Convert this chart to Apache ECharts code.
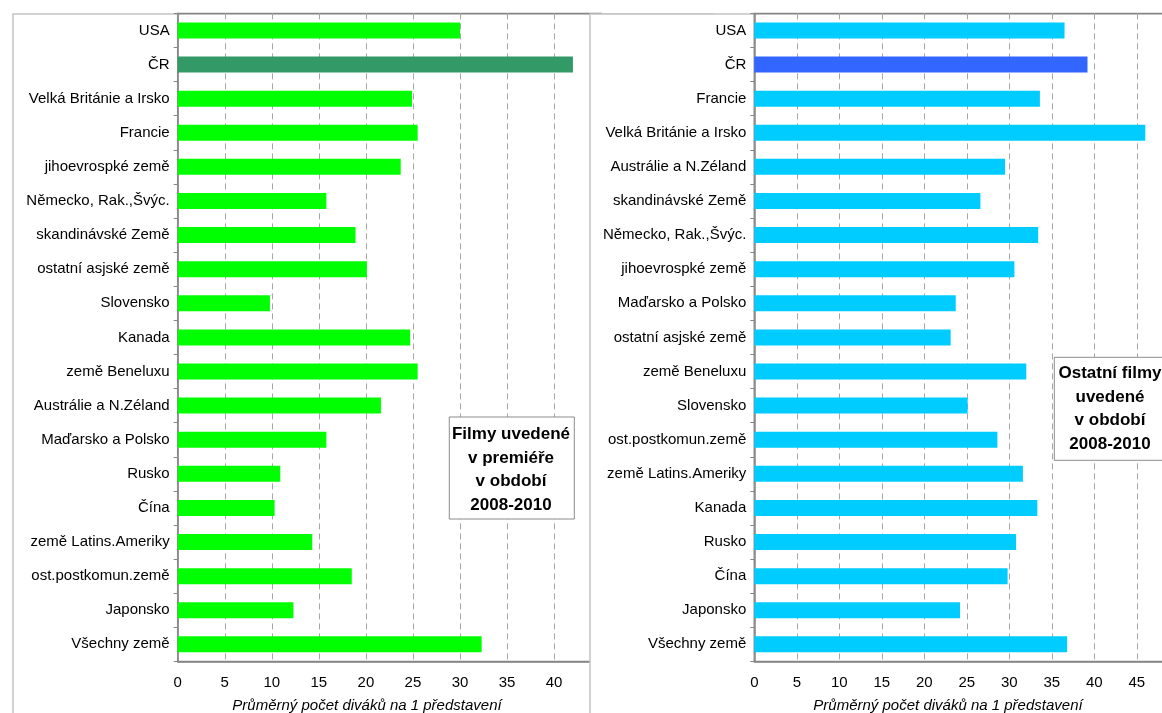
<!DOCTYPE html>
<html>
<head>
<meta charset="utf-8">
<script src="https://cdn.jsdelivr.net/npm/echarts@6/dist/echarts.min.js"></script>
<style>
  html, body { margin: 0; padding: 0; background: #fff; }
  #chart { width: 1162px; height: 713px; }
</style>
</head>
<body>
<div id="chart"></div>
<script>
// premiere films 2008-2010
const leftCategories = ['USA', 'ČR', 'Velká Británie a Irsko', 'Francie', 'jihoevrospké země',
  'Německo, Rak.,Švýc.', 'skandinávské Země', 'ostatní asjské země', 'Slovensko', 'Kanada',
  'země Beneluxu', 'Austrálie a N.Zéland', 'Maďarsko a Polsko', 'Rusko', 'Čína',
  'země Latins.Ameriky', 'ost.postkomun.země', 'Japonsko', 'Všechny země']
const leftValues = [30.0, 42.0, 24.9, 25.5, 23.7, 15.8, 18.9, 20.1, 9.8, 24.7,
  25.5, 21.6, 15.8, 10.9, 10.3, 14.3, 18.5, 12.3, 32.3]

// other films
const rightCategories = ['USA', 'ČR', 'Francie', 'Velká Británie a Irsko', 'Austrálie a N.Zéland',
  'skandinávské Země', 'Německo, Rak.,Švýc.', 'jihoevrospké země', 'Maďarsko a Polsko',
  'ostatní asjské země', 'země Beneluxu', 'Slovensko', 'ost.postkomun.země',
  'země Latins.Ameriky', 'Kanada', 'Rusko', 'Čína', 'Japonsko', 'Všechny země']
const rightValues = [36.5, 39.2, 33.6, 46.0, 29.5, 26.6, 33.4, 30.6, 23.7,
  23.1, 32.0, 25.1, 28.6, 31.6, 33.3, 30.8, 29.8, 24.2, 36.8]

const xTicks = [0, 5, 10, 15, 20, 25, 30, 35, 40, 45, 50]
const axisTitle = 'Průměrný počet diváků na 1 představení'

const font = 'Arial, "Liberation Sans", sans-serif'

function barData(cats, vals, color, hiColor) {
  return vals.map((v, i) => ({
    value: v,
    itemStyle: { color: cats[i] === 'ČR' ? hiColor : color },
  }))
}

function xAxisOpt(gridIndex, max, z) {
  return {
    type: 'value',
    gridIndex,
    min: xTicks[0],
    max,
    interval: xTicks[1] - xTicks[0],
    z,
    axisLine: { show: true, lineStyle: { color: '#868686', width: 1.5 } },
    axisTick: { show: false },
    axisLabel: { color: '#000', fontSize: 15, fontFamily: font, margin: 14 },
    splitLine: { show: true, lineStyle: { color: '#a6a6a6', type: [6, 4], width: 1 } },
  }
}

function yAxisOpt(gridIndex, cats, z) {
  return {
    type: 'category',
    gridIndex,
    data: cats,
    inverse: true,
    z,
    axisLine: { show: true, lineStyle: { color: '#868686', width: 1.5 } },
    axisTick: { show: true, length: 4, lineStyle: { color: '#868686' } },
    axisLabel: { color: '#000', fontSize: 15, fontFamily: font, margin: 8 },
    splitLine: { show: false },
  }
}

const chart = echarts.init(document.getElementById('chart'))

chart.setOption({
  animation: false,
  grid: [
    { left: 177.7, top: 13.4, width: 45 * 9.41, height: 648, show: true,
      outerBoundsMode: 'none', containLabel: false,
      borderColor: '#868686', borderWidth: 1.5, z: 0 },
    { left: 754.3, top: 13.4, width: 50 * 8.5, height: 648, show: true,
      outerBoundsMode: 'none', containLabel: false,
      borderColor: '#868686', borderWidth: 1.5, z: 4 },
  ],
  xAxis: [xAxisOpt(0, 45, 0), xAxisOpt(1, 50, 4)],
  yAxis: [yAxisOpt(0, leftCategories, 0), yAxisOpt(1, rightCategories, 4)],
  series: [
    {
      type: 'bar',
      xAxisIndex: 0,
      yAxisIndex: 0,
      barWidth: 16,
      z: 2,
      data: barData(leftCategories, leftValues, '#00ff00', '#339966'),
    },
    {
      type: 'bar',
      xAxisIndex: 1,
      yAxisIndex: 1,
      barWidth: 16,
      z: 5,
      data: barData(rightCategories, rightValues, '#00ccff', '#3366ff'),
    },
  ],
  graphic: [
    // left panel frame
    { type: 'rect', z: -1, silent: true,
      shape: { x: 13, y: 14, width: 700, height: 800 },
      style: { fill: 'none', stroke: '#c4c4c4', lineWidth: 1.5 } },
    // right panel covering the clipped part of the left chart
    { type: 'rect', z: 3, silent: true,
      shape: { x: 590, y: 14, width: 700, height: 800 },
      style: { fill: '#fff', stroke: '#c4c4c4', lineWidth: 1.5 } },
    { type: 'text', z: 3, silent: true,
      style: { x: 367, y: 706, text: axisTitle, textAlign: 'center', textVerticalAlign: 'middle',
        font: 'italic 15px ' + font, fill: '#000' } },
    { type: 'text', z: 6, silent: true,
      style: { x: 948, y: 706, text: axisTitle, textAlign: 'center', textVerticalAlign: 'middle',
        font: 'italic 15px ' + font, fill: '#000' } },
    // legend boxes
    { type: 'rect', z: 3, silent: true,
      shape: { x: 449.3, y: 417, width: 125, height: 102 },
      style: { fill: '#fff', stroke: '#8c8c8c', lineWidth: 1 } },
    { type: 'text', z: 3, silent: true,
      style: { x: 511, y: 469.7, text: 'Filmy uvedené\nv premiéře\nv období\n2008-2010',
        textAlign: 'center', textVerticalAlign: 'middle', lineHeight: 23.7,
        font: 'bold 17px ' + font, fill: '#000' } },
    { type: 'rect', z: 6, silent: true,
      shape: { x: 1054.3, y: 357.3, width: 112, height: 103 },
      style: { fill: '#fff', stroke: '#8c8c8c', lineWidth: 1 } },
    { type: 'text', z: 6, silent: true,
      style: { x: 1110, y: 408.7, text: 'Ostatní filmy\nuvedené\nv období\n2008-2010',
        textAlign: 'center', textVerticalAlign: 'middle', lineHeight: 23.7,
        font: 'bold 17px ' + font, fill: '#000' } },
  ],
})
</script>
</body>
</html>
